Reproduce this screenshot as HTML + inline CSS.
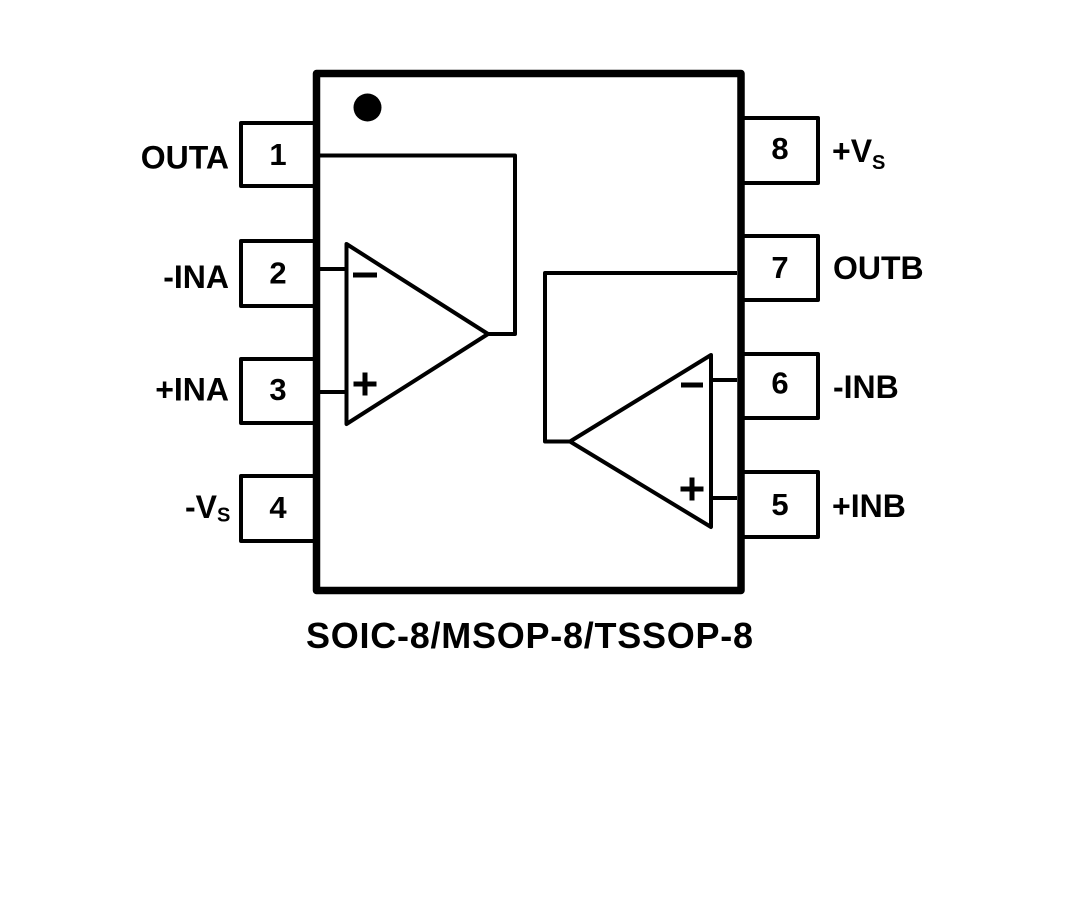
<!DOCTYPE html>
<html>
<head>
<meta charset="utf-8">
<style>
  html,body{margin:0;padding:0;background:#fff;}
  svg{display:block;}
  text{font-family:"Liberation Sans",Arial,sans-serif;font-weight:bold;fill:#000;}
</style>
</head>
<body>
<svg width="1080" height="916" viewBox="0 0 1080 916" xmlns="http://www.w3.org/2000/svg">
  <rect x="0" y="0" width="1080" height="916" fill="#fff"/>

  <!-- Left pin boxes -->
  <g fill="none" stroke="#000" stroke-width="4" stroke-linejoin="round">
    <polyline points="316,123 241,123 241,186 316,186"/>
    <polyline points="316,241 241,241 241,306 316,306"/>
    <polyline points="316,359 241,359 241,423 316,423"/>
    <polyline points="316,476 241,476 241,541 316,541"/>
    <!-- Right pin boxes -->
    <polyline points="741,118 818,118 818,183 741,183"/>
    <polyline points="741,236 818,236 818,300 741,300"/>
    <polyline points="741,354 818,354 818,418 741,418"/>
    <polyline points="741,472 818,472 818,537 741,537"/>
  </g>

  <!-- Main body -->
  <rect x="316.5" y="73.5" width="424.5" height="517" fill="none" stroke="#000" stroke-width="7.5" stroke-linejoin="round"/>

  <!-- Pin 1 dot -->
  <circle cx="367.5" cy="107.5" r="14" fill="#000"/>

  <!-- Op amp A -->
  <g fill="none" stroke="#000" stroke-width="4" stroke-linejoin="round">
    <polygon points="346.5,244 488,334 346.5,424"/>
    <polyline points="320,155.5 515,155.5 515,334 488,334"/>
    <line x1="320" y1="269" x2="347" y2="269"/>
    <line x1="320" y1="392" x2="347" y2="392"/>
  </g>
  <rect x="353" y="272.5" width="24" height="5" fill="#000"/>
  <rect x="353.5" y="381.5" width="23" height="5" fill="#000"/>
  <rect x="362.5" y="372.5" width="5" height="23" fill="#000"/>

  <!-- Op amp B -->
  <g fill="none" stroke="#000" stroke-width="4" stroke-linejoin="round">
    <polygon points="711,355 570,441.5 711,527"/>
    <polyline points="737,273 545,273 545,441.5 570,441.5"/>
    <line x1="711" y1="380" x2="737" y2="380"/>
    <line x1="711" y1="498" x2="737" y2="498"/>
  </g>
  <rect x="681" y="382.5" width="22" height="5" fill="#000"/>
  <rect x="680.5" y="486.5" width="23" height="5" fill="#000"/>
  <rect x="689.5" y="477.5" width="5" height="23" fill="#000"/>

  <!-- Pin numbers -->
  <g font-size="31" text-anchor="middle">
    <text x="278" y="165">1</text>
    <text x="278" y="283.5">2</text>
    <text x="278" y="400">3</text>
    <text x="278" y="518">4</text>
    <text x="780" y="159">8</text>
    <text x="780" y="278">7</text>
    <text x="780" y="393.5">6</text>
    <text x="780" y="515">5</text>
  </g>

  <!-- Left labels -->
  <g font-size="32" text-anchor="end">
    <text x="229" y="168.5">OUTA</text>
    <text x="229" y="288">-INA</text>
    <text x="229" y="400.5">+INA</text>
  </g>
  <text x="185" y="518" font-size="32">-V<tspan font-size="20" dy="3.5">S</tspan></text>

  <!-- Right labels -->
  <text x="832" y="162" font-size="32">+V<tspan font-size="20" dy="7">S</tspan></text>
  <text x="833" y="279" font-size="32">OUTB</text>
  <text x="833" y="398" font-size="32">-INB</text>
  <text x="832" y="517" font-size="32">+INB</text>

  <!-- Package title -->
  <text x="306" y="648" font-size="36" textLength="447" lengthAdjust="spacing">SOIC-8/MSOP-8/TSSOP-8</text>
</svg>
</body>
</html>
